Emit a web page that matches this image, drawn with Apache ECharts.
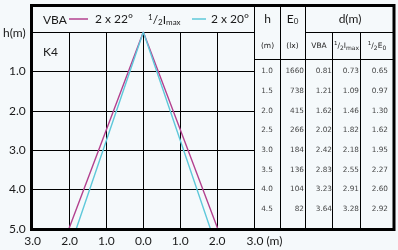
<!DOCTYPE html>
<html><head><meta charset="utf-8">
<script src="https://cdn.jsdelivr.net/npm/echarts@6/dist/echarts.min.js"></script>
<style>html,body{margin:0;padding:0;background:#f5f9fb}#c{width:398px;height:250px}</style>
</head><body><div id="c"></div>
<script>
// ---- data ----
const xTicks = [-3, -2, -1, 0, 1, 2, 3];
const hTicks = [0, 1, 2, 3, 4, 5];
const vbaX = [-2.02, 0, 2.02];
const vbaH = [5, 0, 5];
const imaxX = [-1.82, 0, 1.82];
const imaxH = [5, 0, 5];
const tableH = [1.0, 1.5, 2.0, 2.5, 3.0, 3.5, 4.0, 4.5];
const tableE0 = [1660, 738, 415, 266, 184, 136, 104, 82];
const dVBA = [0.81, 1.21, 1.62, 2.02, 2.42, 2.83, 3.23, 3.64];
const dImax = [0.73, 1.09, 1.46, 1.82, 2.18, 2.55, 2.91, 3.28];
const dE0 = [0.65, 0.97, 1.30, 1.62, 1.95, 2.27, 2.60, 2.92];
const seriesNames = ['2 x 22°', '2 x 20°'];

// ---- layout ----
const F = 'Lato, "Open Sans", sans-serif';
const TF = '"DejaVu Sans", sans-serif';
const INK = '#1a1a1a';
const MAG = '#b3418f';
const CYA = '#5ec8da';
const colB = [254, 280, 305, 332.5, 360.5, 394];
const gTop = 32, gH = 197;

const chart = echarts.init(document.getElementById('c'));

const tableCols = [
  { vals: tableH.map(v => v.toFixed(1)), pos: 'center' },
  { vals: tableE0.map(v => String(v)), dist: 1 },
  { vals: dVBA.map(v => v.toFixed(2)), dist: 0.5 },
  { vals: dImax.map(v => v.toFixed(2)), dist: 1.5 },
  { vals: dE0.map(v => v.toFixed(2)), dist: 6 }
];

const grids = [{ left: 32, top: gTop, width: 222, height: gH }];
const xAxes = [{
  gridIndex: 0, type: 'value', min: -3, max: 3, interval: 1,
  axisLine: { show: false }, axisTick: { show: false },
  splitLine: { show: true, lineStyle: { color: '#000', width: 1 } },
  axisLabel: {
    margin: 6, color: INK, fontFamily: F, fontSize: 12,
    formatter: v => v === 3 ? '{p|}3.0 (m)' : Math.abs(v).toFixed(1),
    rich: { p: { width: 21 } }
  }
}];
const yAxes = [{
  gridIndex: 0, type: 'value', min: 0, max: 5, interval: 1, inverse: true,
  axisLine: { show: false }, axisTick: { show: false },
  splitLine: { show: true, lineStyle: { color: '#000', width: 1 } },
  axisLabel: {
    margin: 7, color: INK, fontFamily: F, fontSize: 12,
    formatter: v => v === 0 ? '{h|h(m)}' : v.toFixed(1),
    rich: { h: { fontFamily: F, fontSize: 12, color: INK, padding: [3, 0, 0, 0] } }
  }
}];
const series = [
  {
    type: 'line', name: seriesNames[0], xAxisIndex: 0, yAxisIndex: 0,
    data: vbaX.map((x, i) => [x, vbaH[i]]), symbol: 'none', z: 5,
    lineStyle: { color: MAG, width: 1.4 }, itemStyle: { color: MAG }
  },
  {
    type: 'line', name: seriesNames[1], xAxisIndex: 0, yAxisIndex: 0,
    data: imaxX.map((x, i) => [x, imaxH[i]]), symbol: 'none', z: 5,
    lineStyle: { color: CYA, width: 1.4 }, itemStyle: { color: CYA }
  }
];

tableCols.forEach((c, i) => {
  const gi = i + 1;
  grids.push({ left: colB[i], top: gTop, width: colB[i + 1] - colB[i], height: gH });
  xAxes.push({ gridIndex: gi, type: 'value', min: 0, max: 1, show: false });
  yAxes.push({ gridIndex: gi, type: 'value', min: 0, max: 5, inverse: true, show: false });
  series.push({
    type: 'scatter', xAxisIndex: gi, yAxisIndex: gi, symbolSize: 0, silent: true,
    data: tableH.map((h, k) => [c.pos === 'center' ? 0.5 : 1, h, c.vals[k]]),
    label: {
      show: true, position: c.pos === 'center' ? 'inside' : 'left',
      distance: c.dist || 0, color: '#111', fontFamily: TF, fontSize: 7.3,
      formatter: p => p.data[2]
    }
  });
});

function line(x1, y1, x2, y2, w) {
  return { type: 'line', z: 50, shape: { x1, y1, x2, y2 }, style: { stroke: '#000', lineWidth: w || 1 } };
}
function txt(x, y, text, size, align, rich, font) {
  return {
    type: 'text', z: 60, x, y,
    style: { text, fill: INK, font: (size || 12) + 'px ' + (font || F), align: align || 'left', verticalAlign: 'middle', rich: rich || {} }
  };
}
const richBig = {
  n: { fontFamily: F, fontSize: 12, color: INK, lineHeight: 16 },
  sup: { fontFamily: F, fontSize: 8, color: INK, lineHeight: 16, padding: [0, 0, 6, 0] },
  sub: { fontFamily: F, fontSize: 8, color: INK, lineHeight: 16, padding: [5, 0, 0, 0] }
};
const richSmall = {
  n: { fontFamily: TF, fontSize: 7.5, color: INK, lineHeight: 12 },
  sup: { fontFamily: TF, fontSize: 5.5, color: INK, lineHeight: 12, padding: [0, 0, 5, 0] },
  sub: { fontFamily: TF, fontSize: 6, color: INK, lineHeight: 12, padding: [4, 0, 0, 0] }
};

const graphic = [
  { type: 'rect', z: 70, shape: { x: 31.5, y: 5.5, width: 362.5, height: 224 }, style: { fill: 'none', stroke: '#000', lineWidth: 3 } },
  line(254.5, 5, 254.5, 229),
  line(280.5, 5, 280.5, 229),
  line(305.5, 5, 305.5, 229),
  line(332.5, 32, 332.5, 229),
  line(360.5, 32, 360.5, 229),
  line(305, 32.5, 394, 32.5),
  line(254, 59.5, 394, 59.5),
  txt(43, 20, 'VBA'),
  txt(148, 20, '{sup|1}{n|/}{sub|2}{n|I}{sub|max}', 12, 'left', richBig),
  txt(43, 52, 'K4'),
  txt(267.5, 19, 'h', 12, 'center'),
  txt(292.5, 19, '{n|E}{sub|0}', 12, 'center', richBig),
  txt(350, 19, 'd(m)', 12, 'center'),
  txt(267.5, 46, '(m)', 7.5, 'center', null, TF),
  txt(292.5, 46, '(lx)', 7.5, 'center', null, TF),
  txt(319, 46, 'VBA', 7.5, 'center', null, TF),
  txt(346.5, 46, '{sup|1}{n|/}{sub|2}{n|I}{sub|max}', 7.5, 'center', richSmall, TF),
  txt(377, 46, '{sup|1}{n|/}{sub|2}{n|E}{sub|0}', 7.5, 'center', richSmall, TF)
];

chart.setOption({
  animation: false,
  backgroundColor: '#f5f9fb',
  grid: grids, xAxis: xAxes, yAxis: yAxes, series,
  legend: [
    { left: 69, top: 13, data: [seriesNames[0]], icon: 'rect', itemWidth: 19, itemHeight: 1.5, itemGap: 0,
      selectedMode: false, padding: [0, 0, 0, 0],
      textStyle: { fontFamily: F, fontSize: 12, color: INK, padding: [0, 0, 0, 2] } },
    { left: 192, top: 13, data: [seriesNames[1]], icon: 'rect', itemWidth: 14, itemHeight: 1.5, itemGap: 0,
      selectedMode: false, padding: [0, 0, 0, 0],
      textStyle: { fontFamily: F, fontSize: 12, color: INK, padding: [0, 0, 0, 0] } }
  ],
  graphic
});
</script>
</body></html>
